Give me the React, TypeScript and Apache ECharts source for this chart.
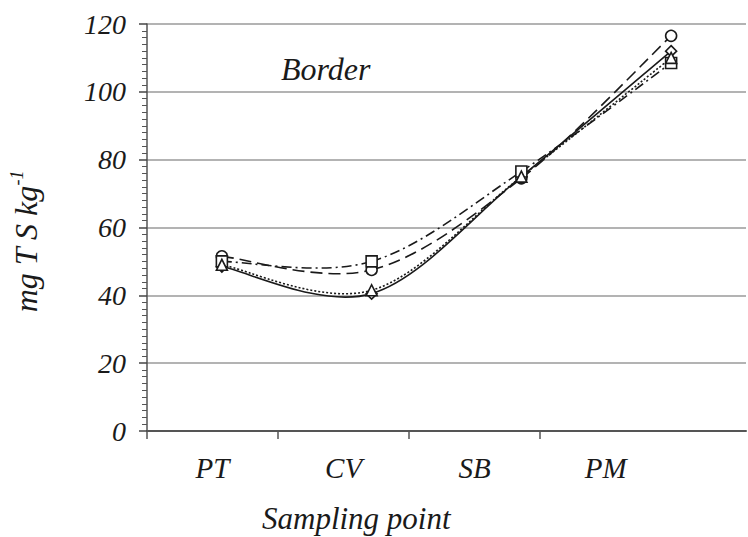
import React, { useEffect, useRef } from "react";
import * as echarts from "echarts";

const categories = ["PT", "CV", "SB", "PM"];
const seriesCircleDash = [51.5, 47.5, 74.5, 116.5];
const seriesSquareDashDot = [50, 50, 76.5, 108.5];
const seriesTriangleDotted = [49, 41.5, 75, 110];
const seriesDiamondSolid = [48.5, 40.5, 75, 112];
const labelTickValues = [0, 1, 2, 3];
const labelValues = [0.5, 1.5, 2.5, 3.5];

const FONT = "'Liberation Serif', 'Times New Roman', serif";
const INK = "#1a1a1a";

export default function App() {
  const ref = useRef<HTMLDivElement>(null);
  useEffect(() => {
    if (!ref.current) return;
    const chart = echarts.init(ref.current, undefined, { renderer: "svg" });

    // Catmull-Rom style smoothed curve (as in spreadsheet "smoothed line"), drawn through the axes
    const curve = (name: string, values: number[], dash: number[] | null) => ({
      name: name + " curve",
      type: "custom",
      xAxisIndex: 0,
      yAxisIndex: 0,
      data: values.map((v, i) => [i, v]),
      encode: { x: 0, y: 1 },
      silent: true,
      z: 2,
      renderItem: (params: any, api: any) => {
        const i = params.dataIndex;
        const n = values.length;
        if (i >= n - 1) return { type: "group", children: [] };
        const p = (k: number) => {
          const kk = Math.max(0, Math.min(n - 1, k));
          return api.coord([kk, values[kk]]);
        };
        const p0 = p(i - 1), p1 = p(i), p2 = p(i + 1), p3 = p(i + 2);
        const style: any = { stroke: INK, lineWidth: 1.6, fill: "none" };
        if (dash) style.lineDash = dash;
        return {
          type: "bezierCurve",
          shape: {
            x1: p1[0],
            y1: p1[1],
            cpx1: p1[0] + (p2[0] - p0[0]) / 6,
            cpy1: p1[1] + (p2[1] - p0[1]) / 6,
            cpx2: p2[0] - (p3[0] - p1[0]) / 6,
            cpy2: p2[1] - (p3[1] - p1[1]) / 6,
            x2: p2[0],
            y2: p2[1],
          },
          style,
        };
      },
    });
    const marks = (name: string, data: number[], symbol: string, size = 11) => ({
      name,
      type: "line",
      xAxisIndex: 0,
      data,
      symbol,
      symbolSize: size,
      showSymbol: true,
      lineStyle: { width: 0, opacity: 0 },
      itemStyle: { color: "#fff", borderColor: INK, borderWidth: 1.6 },
      z: 4,
    });
    chart.setOption({
      animation: false,
      backgroundColor: "#fff",
      title: {
        text: "Border",
        left: 276,
        top: 48,
        textStyle: { fontFamily: FONT, fontStyle: "italic", fontWeight: "normal", fontSize: 32, color: INK },
      },
      graphic: [
        {
          type: "text",
          left: 262,
          top: 503,
          style: { text: "Sampling point", font: `italic 31px ${FONT}`, fill: INK },
        },
      ],
      grid: { left: 147, right: 2, top: 24, bottom: 106, containLabel: false },
      xAxis: [
        { type: "category", data: categories, boundaryGap: true, show: false },
        {
          type: "value",
          min: 0,
          max: 4.57,
          position: "bottom",
          axisLine: { show: true, lineStyle: { color: "#555", width: 2 } },
          axisTick: { show: true, customValues: labelTickValues, length: 8, lineStyle: { color: "#555", width: 1.5 } },
          splitLine: { show: false },
          axisLabel: {
            customValues: labelValues,
            formatter: (v: number) => categories[Math.floor(v)] ?? "",
            margin: 22,
            fontFamily: FONT,
            fontStyle: "italic",
            fontSize: 29,
            color: INK,
          },
        },
      ],
      yAxis: {
        type: "value",
        min: 0,
        max: 120,
        interval: 20,
        name: "{a|mg T S kg}{s|-1}",
        nameLocation: "middle",
        nameRotate: 90,
        nameGap: 104,
        nameTextStyle: {
          rich: {
            a: { fontFamily: FONT, fontStyle: "italic", fontSize: 32, color: INK },
            s: { fontFamily: FONT, fontStyle: "italic", fontSize: 18, color: INK, padding: [0, 28, 17, 0] },
          },
        },
        axisLine: { show: true, lineStyle: { color: "#555", width: 1.5 } },
        axisTick: { show: true, length: 8, lineStyle: { color: "#444", width: 1.5 } },
        minorTick: { show: true, splitNumber: 10, length: 5, lineStyle: { color: "#555", width: 1 } },
        splitLine: { show: true, lineStyle: { color: "#9a9a9a", width: 1.5 } },
        axisLabel: { margin: 21, fontFamily: FONT, fontStyle: "italic", fontSize: 28, color: INK },
      },
      series: [
        curve("Circle", seriesCircleDash, [12, 6]),
        curve("Square", seriesSquareDashDot, [10, 4, 2, 4]),
        curve("Triangle", seriesTriangleDotted, [2, 2]),
        curve("Diamond", seriesDiamondSolid, null),
        marks("Diamond", seriesDiamondSolid, "diamond"),
        marks("Circle", seriesCircleDash, "circle"),
        marks("Square", seriesSquareDashDot, "rect"),
        marks("Triangle", seriesTriangleDotted, "triangle"),
      ],
    });
    return () => chart.dispose();
  }, []);
  return <div ref={ref} style={{ position: "fixed", left: 0, top: 0, width: 748, height: 537 }} />;
}
